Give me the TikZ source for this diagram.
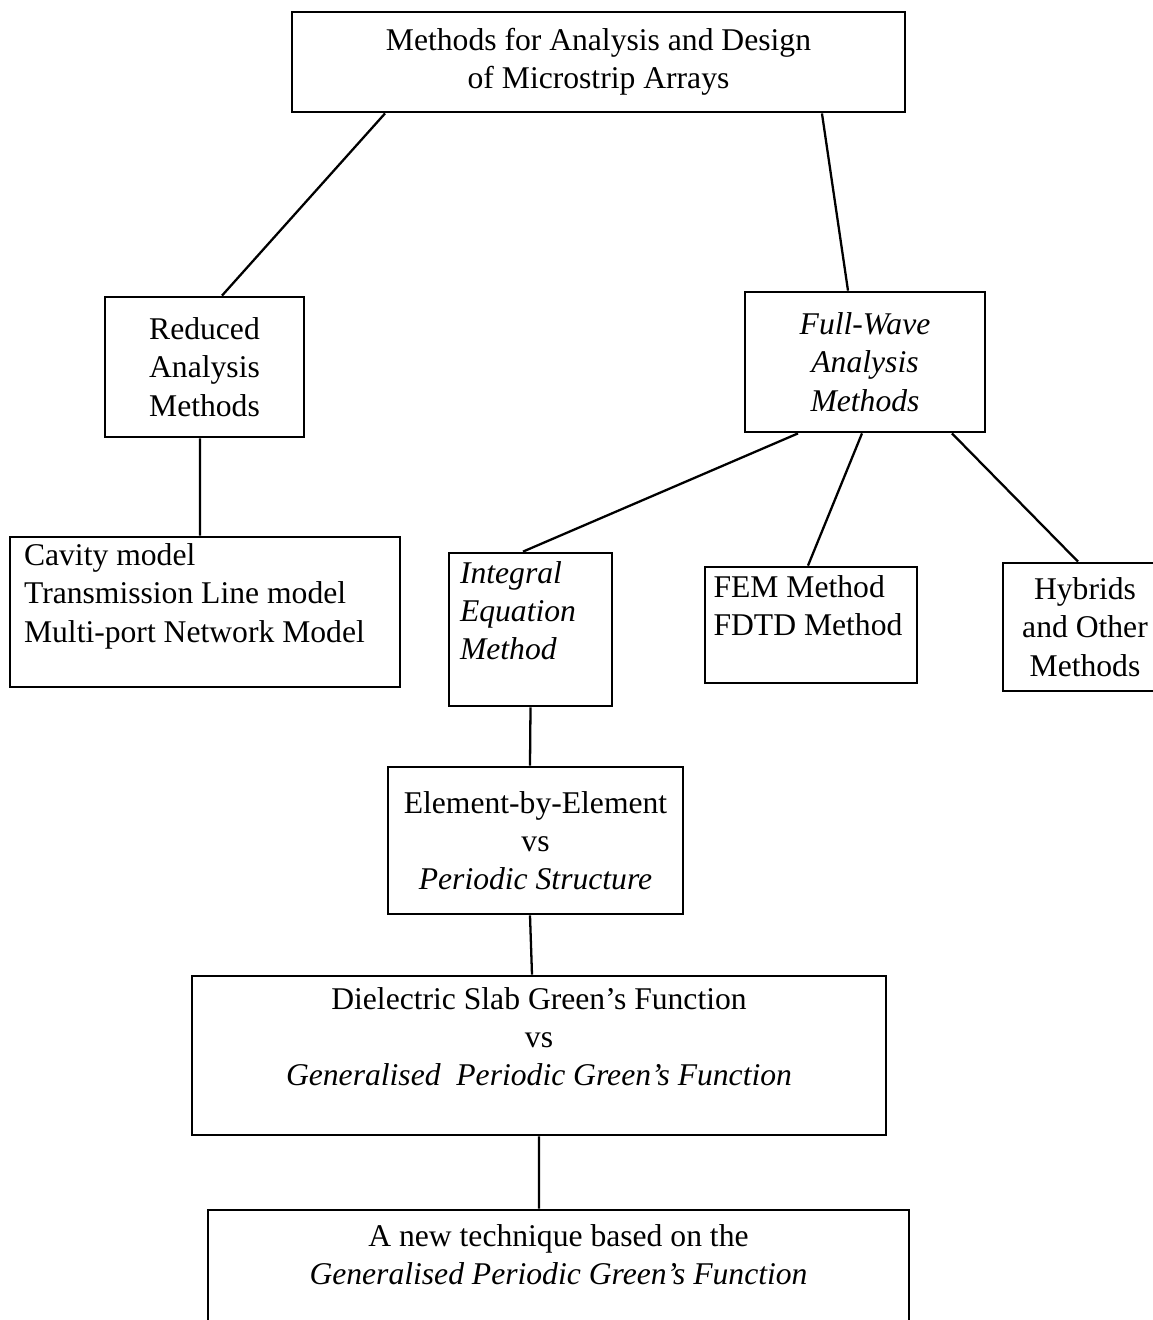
\documentclass[tikz,border=0pt]{standalone}
\usepackage{fontspec}
\setmainfont{Liberation Serif}
\usepackage{tikz}
\usetikzlibrary{positioning}

\begin{document}
\begin{tikzpicture}[x=0.02cm, y=-0.02cm,
    box/.style={draw, line width=1.6pt, align=center, inner sep=0pt,
        font=\fontsize{18}{21.8}\selectfont},
    lbox/.style={box, align=flush left, inner ysep=0.05cm},
    link/.style={line width=1.3pt}]
    % Khung trang
    \useasboundingbox (0,0) rectangle (1153,1320);
    \clip (0,0) rectangle (1153,1320);

    % Hop tieu de
    \node[box, minimum width=12.26cm, minimum height=2cm] (top) at (598.5,62)
        {Methods for Analysis and Design\\of Microstrip Arrays};

    % Hai nhanh chinh
    \node[box, minimum width=3.98cm, minimum height=2.8cm] (reduced) at (204.5,367)
        {Reduced\\Analysis\\Methods};
    \node[box, minimum width=4.8cm, minimum height=2.8cm] (fullwave) at (865,362)
        {\itshape Full-Wave\\\itshape Analysis\\\itshape Methods};

    % Hang thu ba
    \node[lbox, text width=7.24cm, inner xsep=0.28cm, minimum height=3cm] (cavity) at (205,612)
        {Cavity model\\Transmission Line model\\Multi-port Network Model\\\mbox{}};
    \node[lbox, text width=2.82cm, inner xsep=0.22cm, minimum height=3.06cm] (integral) at (530.5,629.5)
        {\itshape Integral\\\itshape Equation\\\itshape Method\\\mbox{}};
    \node[lbox, text width=3.9cm, inner xsep=0.17cm, minimum height=2.32cm] (fem) at (811,625)
        {FEM Method\\FDTD Method\\\mbox{}};
    \node[box, minimum width=3.28cm, minimum height=2.56cm] (hybrids) at (1085,627)
        {Hybrids\\and Other\\Methods};

    % Phan duoi
    \node[box, minimum width=5.9cm, minimum height=2.94cm] (element) at (535.5,840.5)
        {Element-by-Element\\vs\\\itshape Periodic Structure};
    \node[box, minimum width=13.88cm, minimum height=3.18cm] (slab) at (539,1055.5)
        {Dielectric Slab Green's Function\\vs\\\itshape Generalised\ \ Periodic Green's Function\\\mbox{}};
    \node[box, minimum width=14.02cm, minimum height=2.56cm] (newtech) at (558.5,1274)
        {A new technique based on the\\\itshape Generalised Periodic Green's Function\\\mbox{}};

    % Cac duong noi
    \draw[link] ([xshift=-4.27cm]top.south) -- ([xshift=0.35cm]reduced.north);
    \draw[link] ([xshift=4.47cm]top.south) -- ([xshift=-0.34cm]fullwave.north);
    \draw[link] ([xshift=-0.09cm]reduced.south) -- ([xshift=-0.1cm]cavity.north);
    \draw[link] ([xshift=-1.34cm]fullwave.south) -- ([xshift=-0.15cm]integral.north);
    \draw[link] ([xshift=-0.06cm]fullwave.south) -- ([xshift=-0.06cm]fem.north);
    \draw[link] ([xshift=1.74cm]fullwave.south) -- ([xshift=-0.14cm]hybrids.north);
    \draw[link] (integral.south) -- ([xshift=-0.11cm]element.north);
    \draw[link] ([xshift=-0.11cm]element.south) -- ([xshift=-0.14cm]slab.north);
    \draw[link] (slab.south) -- ([xshift=-0.39cm]newtech.north);
\end{tikzpicture}
\end{document}
